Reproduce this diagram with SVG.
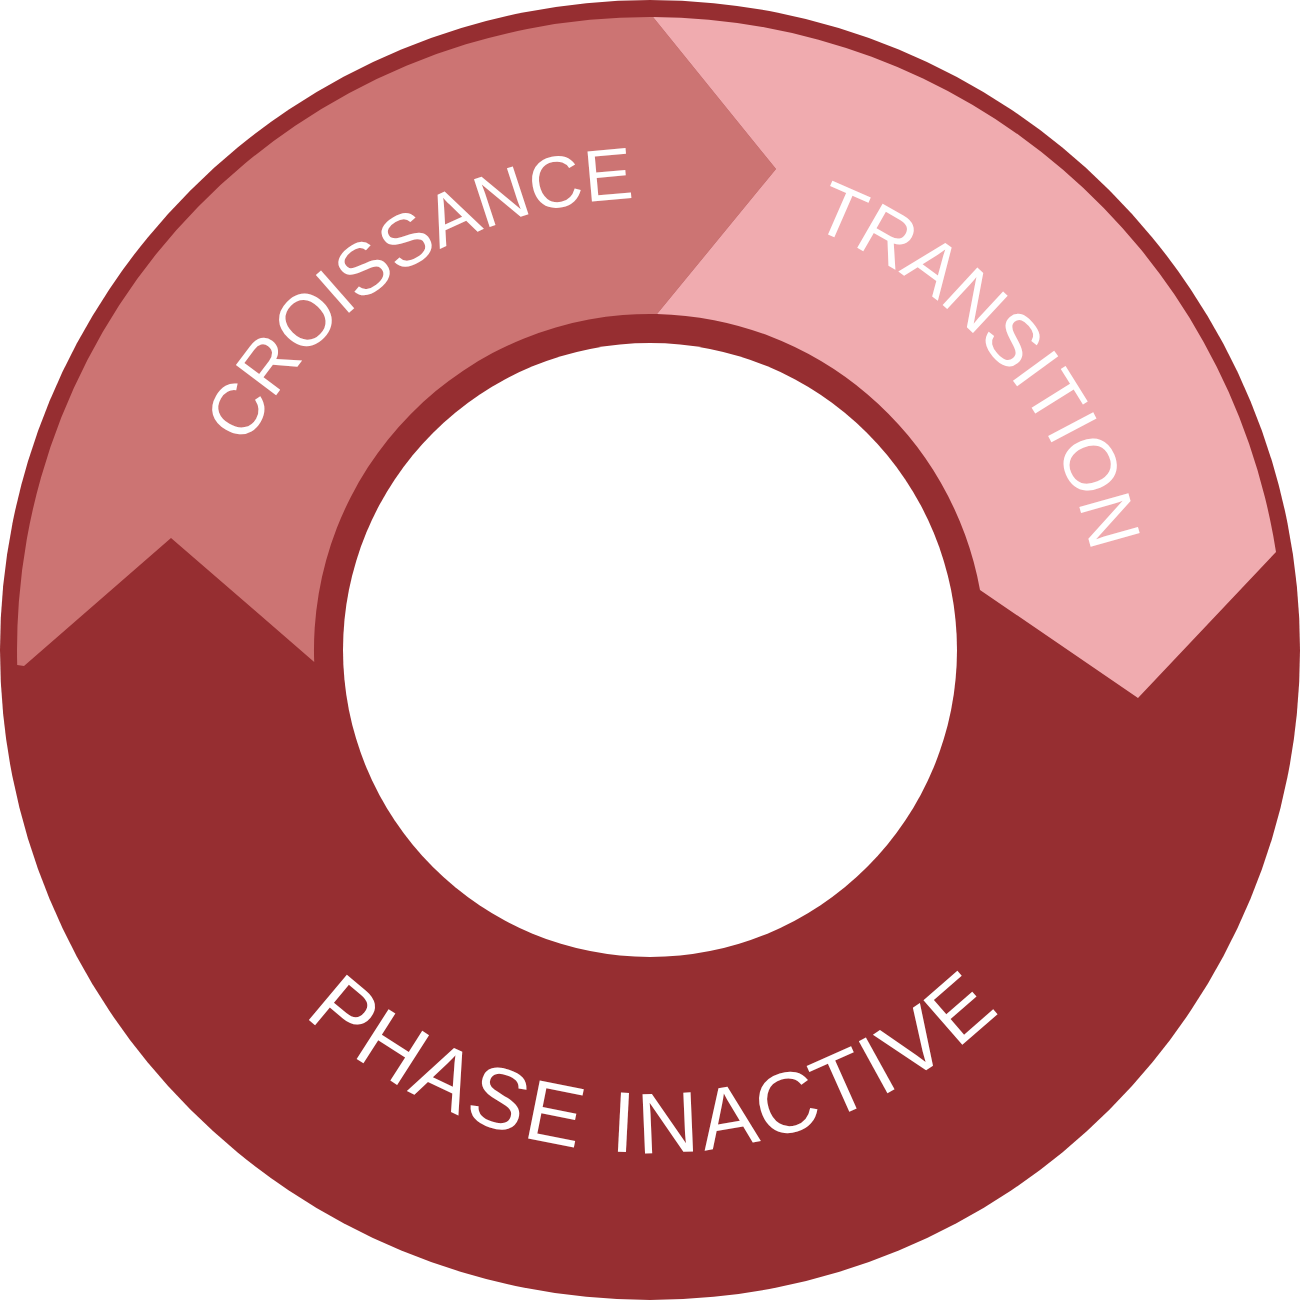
<svg xmlns="http://www.w3.org/2000/svg" width="1301" height="1301" viewBox="0 0 1301 1301">
  <style>
    .dark { fill: #962E31; }
    .grow { fill: #CC7473; }
    .trans { fill: #F0ABAF; }
    .hole { fill: #FFFFFF; }
    .lbl { fill: #FFFFFF; font-family: "Liberation Sans", Arial, sans-serif; font-weight: normal; }
  </style>
  <defs>
    <path id="arcTop" d="M 198 650 A 452 452 0 0 1 1102 650"/>
    <path id="arcBottom" d="M 147 650 A 503 503 0 0 0 1153 650"/>
  </defs>
  <rect width="1301" height="1301" fill="#FFFFFF"/>
  <g id="phase-inactive">
    <circle class="dark" cx="650" cy="650" r="650"/>
    <text class="lbl" font-size="86" letter-spacing="4.3" text-anchor="middle"><textPath href="#arcBottom" startOffset="50.3%">PHASE INACTIVE</textPath></text>
  </g>
  <g id="croissance">
    <path class="grow" d="M 17.2 665 A 633 633 0 0 1 653 17 L 776 169 L 657 314 A 336 336 0 0 0 314.2 662 L 171 538 L 24 666 Z"/>
    <text class="lbl" font-size="73" text-anchor="middle"><textPath href="#arcTop" startOffset="453">CROISSANCE</textPath></text>
  </g>
  <g id="transition">
    <path class="trans" d="M 653 17 A 633 633 0 0 1 1276 552 L 1138 698 L 980 590 A 336 336 0 0 0 657 314 L 776 169 Z"/>
    <text class="lbl" font-size="74" text-anchor="middle"><textPath href="#arcTop" startOffset="1097.7">TRANSITION</textPath></text>
  </g>
  <g id="center">
    <circle class="hole" cx="650" cy="650" r="307"/>
  </g>
  <g id="connectors"></g>
</svg>
